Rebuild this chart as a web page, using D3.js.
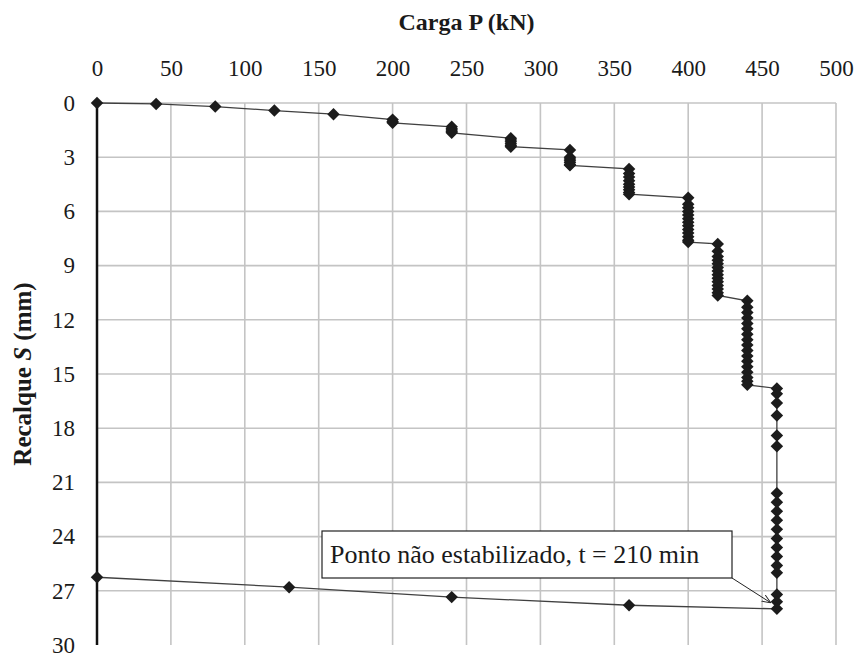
<!DOCTYPE html>
<html>
<head>
<meta charset="utf-8">
<script src="https://cdn.jsdelivr.net/npm/d3@7"></script>
</head>
<body style="margin:0; background:#fff">
<script>
// load stages (kN) and the settlement readings taken at each stage (mm)
var stageLoads = [0, 40, 80, 120, 160, 200, 240, 280, 320, 360, 400, 420, 440, 460];
var stageReadings = [
    [0],
    [0.05],
    [0.2],
    [0.42],
    [0.62],
    [0.92, 1.02, 1.1],
    [1.32, 1.42, 1.5, 1.58, 1.65],
    [1.95, 2.05, 2.15, 2.25, 2.35, 2.42],
    [2.6, 3.0, 3.1, 3.2, 3.3, 3.4, 3.45],
    [3.65, 3.9, 4.1, 4.3, 4.5, 4.65, 4.8, 4.95, 5.05],
    [5.25, 5.6, 5.8, 6.0, 6.2, 6.4, 6.6, 6.8, 7.0, 7.2, 7.4, 7.6, 7.7],
    [7.8, 8.2, 8.5, 8.7, 8.9, 9.1, 9.3, 9.5, 9.7, 9.9, 10.1, 10.3, 10.5, 10.65],
    [10.95, 11.3, 11.6, 11.9, 12.2, 12.5, 12.8, 13.1, 13.4, 13.7, 14.0, 14.3, 14.6, 14.9, 15.2, 15.4, 15.6],
    [15.8, 16.1, 16.6, 17.3, 18.4, 19.0, 21.6, 22.1, 22.6, 23.1, 23.6, 24.1, 24.6, 25.1, 25.6, 26.0, 27.2, 27.6, 28.0]
];
// unloading
var unloadLoads = [360, 240, 130, 0];
var unloadSettlements = [27.8, 27.35, 26.8, 26.25];

var xTicks = [0, 50, 100, 150, 200, 250, 300, 350, 400, 450, 500];
var yTicks = [0, 3, 6, 9, 12, 15, 18, 21, 24, 27, 30];
var noteText = "Ponto não estabilizado, t = 210 min";

window.onload = setChart();

//put the serif face on a text selection
function serif(sel, size){
    sel.attr("font-family", "Liberation Serif")
        .style("font-family", "'Liberation Serif'")
        .style("font-size", size + "px")
        .style("fill", "#1a1a1a");
}

function setChart(){
    var width = 858,
        height = 657;

    var svg = d3.select("body")
        .append("svg")
        .attr("width", width)
        .attr("height", height);

    var x = d3.scaleLinear().domain([0, 500]).range([97, 836]);
    var y = d3.scaleLinear().domain([0, 30]).range([103, 645]);

    //flatten readings into points, loading then unloading
    var points = [];
    stageLoads.forEach(function(p, i){
        stageReadings[i].forEach(function(s){
            points.push([p, s]);
        });
    });
    unloadLoads.forEach(function(p, i){
        points.push([p, unloadSettlements[i]]);
    });

    //grid
    var grid = svg.append("g").attr("class", "grid");
    grid.selectAll(".vgrid")
        .data(xTicks.slice(1))
        .enter()
        .append("line")
        .attr("x1", function(d){ return x(d); })
        .attr("x2", function(d){ return x(d); })
        .attr("y1", y(0))
        .attr("y2", y(30))
        .style("stroke", "#c4c4c4")
        .style("stroke-width", 1.6);
    grid.selectAll(".hgrid")
        .data(yTicks.slice(0, -1))
        .enter()
        .append("line")
        .attr("x1", x(0))
        .attr("x2", x(500))
        .attr("y1", function(d){ return y(d); })
        .attr("y2", function(d){ return y(d); })
        .style("stroke", "#c4c4c4")
        .style("stroke-width", 1.6);

    //top axis labels
    var xAxis = d3.axisTop(x).tickValues(xTicks).tickSize(0).tickPadding(27);
    var gx = svg.append("g")
        .attr("transform", "translate(0," + y(0) + ")")
        .call(xAxis);
    gx.select(".domain").remove();
    gx.attr("font-family", "Liberation Serif");
    serif(gx.selectAll("text"), 23);

    //left axis
    var yAxis = d3.axisLeft(y).tickValues(yTicks).tickSize(0).tickPadding(22);
    var gy = svg.append("g")
        .attr("transform", "translate(" + x(0) + ",0)")
        .call(yAxis);
    gy.select(".domain").remove();
    gy.attr("font-family", "Liberation Serif");
    serif(gy.selectAll("text"), 23);

    svg.append("line")
        .attr("x1", x(0)).attr("x2", x(0))
        .attr("y1", y(0)).attr("y2", y(30))
        .style("stroke", "#111")
        .style("stroke-width", 2.5);

    //curve
    var line = d3.line()
        .x(function(d){ return x(d[0]); })
        .y(function(d){ return y(d[1]); });
    svg.append("path")
        .datum(points)
        .attr("d", line)
        .style("fill", "none")
        .style("stroke", "#404040")
        .style("stroke-width", 1.3);

    var diamond = d3.symbol().type(d3.symbolSquare).size(78);
    svg.selectAll(".pt")
        .data(points)
        .enter()
        .append("path")
        .attr("class", "pt")
        .attr("d", diamond)
        .attr("transform", function(d){
            return "translate(" + x(d[0]) + "," + y(d[1]) + ") rotate(45)";
        })
        .style("fill", "#1c1c1c");

    //titles
    var title = svg.append("text")
        .attr("x", (x(0) + x(500)) / 2)
        .attr("y", 30)
        .attr("text-anchor", "middle")
        .style("font-weight", "bold")
        .text("Carga P (kN)");
    serif(title, 24);

    var yTitle = svg.append("text")
        .attr("transform", "translate(31," + (y(0) + y(30)) / 2 + ") rotate(-90)")
        .attr("text-anchor", "middle")
        .style("font-weight", "bold");
    serif(yTitle, 25);
    yTitle.append("tspan").text("Recalque  ");
    yTitle.append("tspan").style("font-style", "italic").text("S");
    yTitle.append("tspan").text(" (mm)");

    //annotation
    var last = points[points.length - unloadLoads.length - 1];
    var bx = 322, by = 531, bw = 410, bh = 47;
    svg.append("defs").append("marker")
        .attr("id", "arrow")
        .attr("viewBox", "0 0 10 10")
        .attr("refX", 10).attr("refY", 5)
        .attr("markerWidth", 9).attr("markerHeight", 9)
        .attr("orient", "auto")
        .append("path")
        .attr("d", "M0,1 L10,5 L0,9")
        .style("fill", "none")
        .style("stroke", "#222")
        .style("stroke-width", 1);
    svg.append("line")
        .attr("x1", bx + bw).attr("y1", by + bh)
        .attr("x2", x(last[0]) - 6).attr("y2", y(last[1]) - 6)
        .attr("marker-end", "url(#arrow)")
        .style("stroke", "#222")
        .style("stroke-width", 1);
    svg.append("rect")
        .attr("x", bx).attr("y", by)
        .attr("width", bw).attr("height", bh)
        .style("fill", "#fff")
        .style("stroke", "#222")
        .style("stroke-width", 1.2);
    var note = svg.append("text")
        .attr("x", bx + 8)
        .attr("y", by + 32)
        .text(noteText);
    serif(note, 26);
}
</script>
</body>
</html>
